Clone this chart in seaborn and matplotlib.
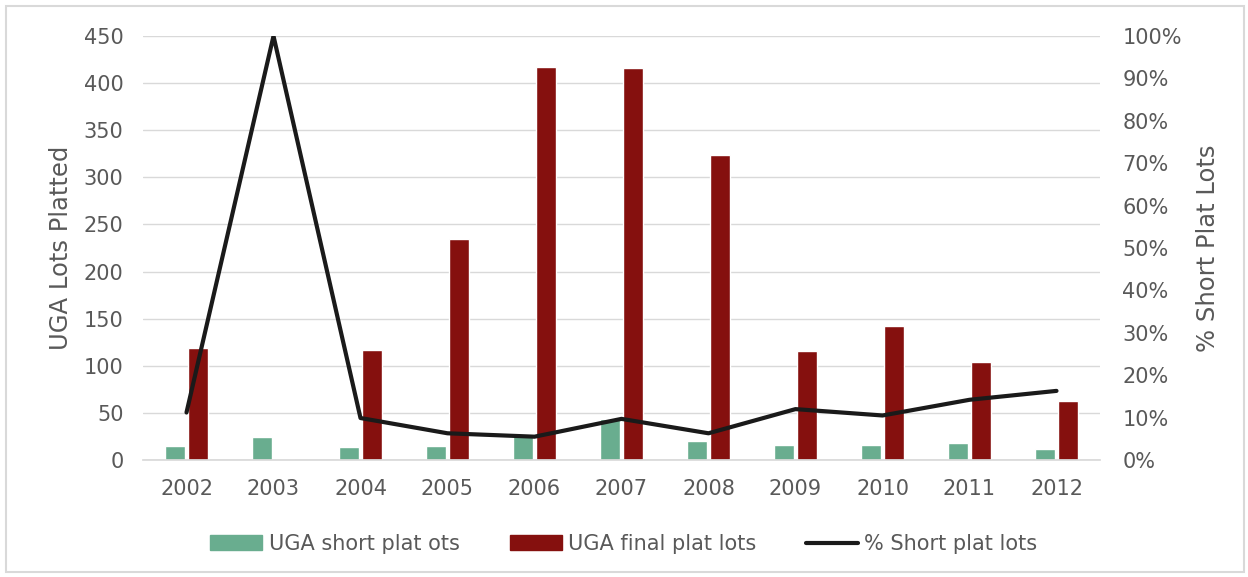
import matplotlib
matplotlib.use("Agg")
import matplotlib.pyplot as plt
import seaborn as sns
import pandas as pd
from matplotlib.patches import Rectangle, Patch
from matplotlib.lines import Line2D
from matplotlib.ticker import PercentFormatter, MultipleLocator

years = ["2002", "2003", "2004", "2005", "2006", "2007", "2008", "2009", "2010", "2011", "2012"]
short_plat = [15, 24, 14, 15, 26, 43, 20, 16, 16, 18, 12]
final_plat = [119, 0, 117, 235, 417, 416, 324, 116, 142, 104, 63]
pct_short = [0.112, 1.00, 0.099, 0.063, 0.055, 0.097, 0.063, 0.120, 0.105, 0.142, 0.163]

series_names = ["UGA short plat ots", "UGA final plat lots"]
line_name = "% Short plat lots"
green = "#69AD8F"
red = "#85100E"
grey_text = "#595959"
grid_c = "#D9D9D9"

sns.set_theme(style="white")
plt.rcParams["font.family"] = ["DejaVu Sans"]

df = pd.DataFrame({
    "year": years * 2,
    "value": short_plat + final_plat,
    "series": [series_names[0]] * len(years) + [series_names[1]] * len(years),
})

fig = plt.figure(figsize=(12.48, 5.77), dpi=100)
ax = fig.add_axes([143 / 1248, 1 - 460 / 577, (1100 - 143) / 1248, (460 - 36) / 577])

sns.barplot(data=df, x="year", y="value", hue="series", order=years,
            hue_order=series_names, palette=[green, red], width=0.53, gap=0.13,
            saturation=1, ax=ax, legend=False, errorbar=None)

ax.set_ylim(0, 450)
ax.yaxis.set_major_locator(MultipleLocator(50))
ax.set_xlim(-0.5, len(years) - 0.5)
ax.grid(axis="y", color=grid_c, linewidth=1)
ax.set_axisbelow(True)
for s in ["top", "right", "left"]:
    ax.spines[s].set_visible(False)
ax.spines["bottom"].set_color(grid_c)
ax.tick_params(axis="both", length=0, labelsize=15, labelcolor=grey_text)
ax.tick_params(axis="y", pad=14)
ax.tick_params(axis="x", pad=14)
ax.set_xlabel("")
ax.set_ylabel("UGA Lots Platted", fontsize=17.5, color=grey_text, labelpad=8)

ax2 = ax.twinx()
sns.lineplot(x=list(range(len(years))), y=pct_short, color="#1A1A1A", linewidth=3,
             ax=ax2, legend=False)
ax2.set_ylim(0, 1)
ax2.yaxis.set_major_locator(MultipleLocator(0.1))
ax2.yaxis.set_major_formatter(PercentFormatter(1.0, decimals=0))
for s in ["top", "right", "left", "bottom"]:
    ax2.spines[s].set_visible(False)
ax2.tick_params(axis="y", length=0, labelsize=15, labelcolor=grey_text, pad=16)
ax2.set_ylabel("% Short Plat Lots", fontsize=17.5, color=grey_text, labelpad=10)
ax2.grid(False)

handles = [Patch(color=green), Patch(color=red), Line2D([], [], color="#1A1A1A", linewidth=3)]
labels = series_names + [line_name]
fig.legend(handles, labels, loc="center", bbox_to_anchor=(0.5, 1 - 544 / 577), ncol=3,
           frameon=False, fontsize=15, labelcolor=grey_text, columnspacing=2.4,
           handlelength=2.5, handletextpad=0.3)

fig.patches.append(Rectangle((6 / 1248, 1 - 572 / 577), 1238 / 1248, 566 / 577,
                             transform=fig.transFigure, fill=False,
                             edgecolor=grid_c, linewidth=1.5))

fig.savefig("out.png", dpi=100)
